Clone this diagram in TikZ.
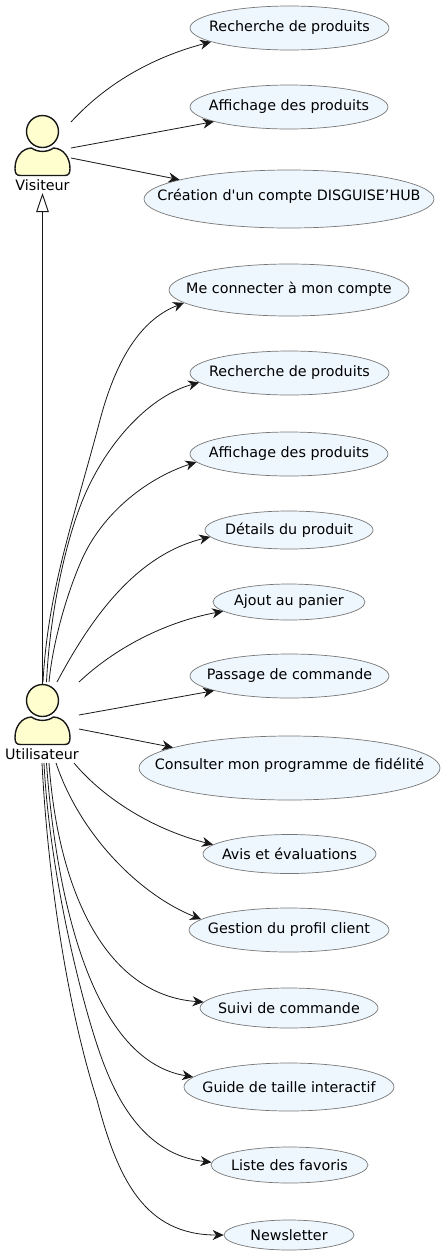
\documentclass[tikz,border=0pt]{standalone}
\usepackage{fontspec}
\newfontfamily\plainsans{DejaVu Sans}
\usetikzlibrary{shapes.geometric,arrows.meta}
\definecolor{ink}{HTML}{181818}
\definecolor{ucfill}{HTML}{EEF6FE}
\definecolor{ucline}{HTML}{777777}
\definecolor{actfill}{HTML}{FEFECE}
\tikzset{
  usecase/.style={ellipse,draw=ucline,fill=ucfill,line width=0.7pt,inner sep=0pt},
  uctext/.style={inner sep=0pt,font=\plainsans\fontsize{14.3}{16}\selectfont,text=black},
  assoc/.style={draw=ink,line width=0.8pt,-{Stealth[length=11pt,width=10pt,inset=3.5pt]}},
  general/.style={draw=ink,line width=0.9pt,-{Triangle[open,length=19pt,width=12.5pt,fill=white]}},
  actorline/.style={draw=ink,fill=actfill,line width=1.4pt},
}
\newcommand{\uc}[7]{\node[usecase,minimum width=#4pt,minimum height=#5pt] (#1) at (#2,#3) {};
  \node[uctext] (#1t) at (#2,{#3-#6}) {#7};}
\newcommand{\actorfig}[3]{%
  \begin{scope}[shift={(#1,#2)}]
    \path[actorline] (-27.5,37) .. controls (-27.5,26) and (-21,17) .. (-11,16.5)
      .. controls (-5,21) and (5,21) .. (11,16.5)
      .. controls (21,17) and (27.5,26) .. (27.5,37)
      .. controls (27.5,42) and (26,44) .. (22,44) -- (-22,44)
      .. controls (-26,44) and (-27.5,42) .. (-27.5,37) -- cycle;
    \node[circle,actorline,minimum size=32pt,inner sep=0pt] (#3) at (0,0) {};
  \end{scope}}
\begin{document}
\begin{tikzpicture}[x=1pt,y=-1pt]
\useasboundingbox (0,0) rectangle (445,1254);
\actorfig{42.5}{131.5}{vhead}
\actorfig{42.5}{700.5}{uhead}
\node[uctext] (vlabel) at (42.5,185) {Visiteur};
\node[uctext] (ulabel) at (42,754) {Utilisateur};
\uc{e1}{289.5}{28}{199}{44}{0}{Recherche de produits}
\uc{e2}{289}{107}{198}{44}{0}{Affichage des produits}
\uc{e3}{289}{199}{290}{58}{3}{Création d'un compte DISGUISE’HUB}
\uc{e4}{289}{290}{240}{52}{1}{Me connecter à mon compte}
\uc{e5}{289.5}{373}{199}{44}{0}{Recherche de produits}
\uc{e6}{289}{454}{198}{44}{0}{Affichage des produits}
\uc{e7}{289}{530}{168}{38}{0}{Détails du produit}
\uc{e8}{289}{602}{152}{36}{0}{Ajout au panier}
\uc{e9}{289.5}{676}{199}{44}{0}{Passage de commande}
\uc{e10}{289.5}{768}{301}{64}{3}{Consulter mon programme de fidélité}
\uc{e11}{289.5}{854}{173}{39}{0}{Avis et évaluations}
\uc{e12}{289}{930}{200}{44}{0}{Gestion du profil client}
\uc{e13}{289}{1008}{178}{40}{0}{Suivi de commande}
\uc{e14}{289}{1087}{210}{48}{0}{Guide de taille interactif}
\uc{e15}{289.5}{1165}{157}{36}{0}{Liste des favoris}
\uc{e16}{289}{1235}{130}{30}{0}{Newsletter}
\coordinate (vt1) at (71,122);
\coordinate (vt2) at (71,148);
\coordinate (vt3) at (71,158);
\coordinate (vtip) at (42.5,193);
\coordinate (ut1) at (43,682);
\coordinate (ut2) at (46.5,682);
\coordinate (ut3) at (49,682);
\coordinate (ut4) at (57,682);
\coordinate (ut5) at (79,682);
\coordinate (ur1) at (79,715);
\coordinate (ur2) at (79,729);
\coordinate (ub1) at (74,763);
\coordinate (ub2) at (56,763);
\coordinate (ub3) at (49,763);
\coordinate (ub4) at (46.5,763);
\coordinate (ub5) at (44,763);
\coordinate (ub6) at (42,763);
\draw[general] (uhead.north) -- (vtip);
\draw[assoc] (vt1) .. controls (105,85) and (150,58) .. (e1.190);
\draw[assoc] (vt2) -- (e2.191.3);
\draw[assoc] (vt3) -- (e3.170.5);
\draw[assoc] (ut1) .. controls (48,590) and (73,522) .. (100,420) .. controls (118,352) and (145,318) .. (e4.187.8);
\draw[assoc] (ut2) .. controls (50,610) and (67,533) .. (87,490) .. controls (110,440) and (150,396) .. (e5.186.2);
\draw[assoc] (ut3) .. controls (53,640) and (68,590) .. (83,557) .. controls (105,510) and (150,477) .. (e6.185.7);
\draw[assoc] (ut4) .. controls (90,620) and (135,555) .. (e7.185.9);
\draw[assoc] (ut5) .. controls (115,648) and (165,622) .. (e8.188.5);
\draw[assoc] (ur1) -- (e9.191.1);
\draw[assoc] (ur2) -- (e10.170);
\draw[assoc] (ub1) .. controls (105,800) and (155,830) .. (e11.173.1);
\draw[assoc] (ub2) .. controls (80,835) and (140,895) .. (e12.173.4);
\draw[assoc] (ub3) .. controls (58,890) and (105,995) .. (e13.176.6);
\draw[assoc] (ub4) .. controls (55,885) and (88,1060) .. (e14.174.5);
\draw[assoc] (ub5) .. controls (50,880) and (85,1017) .. (105,1067) .. controls (118,1100) and (145,1155) .. (e15.178.5);
\draw[assoc] (ub6) .. controls (48,880) and (68,1010) .. (97,1100) .. controls (118,1180) and (145,1235) .. (e16.180);
\end{tikzpicture}
\end{document}
